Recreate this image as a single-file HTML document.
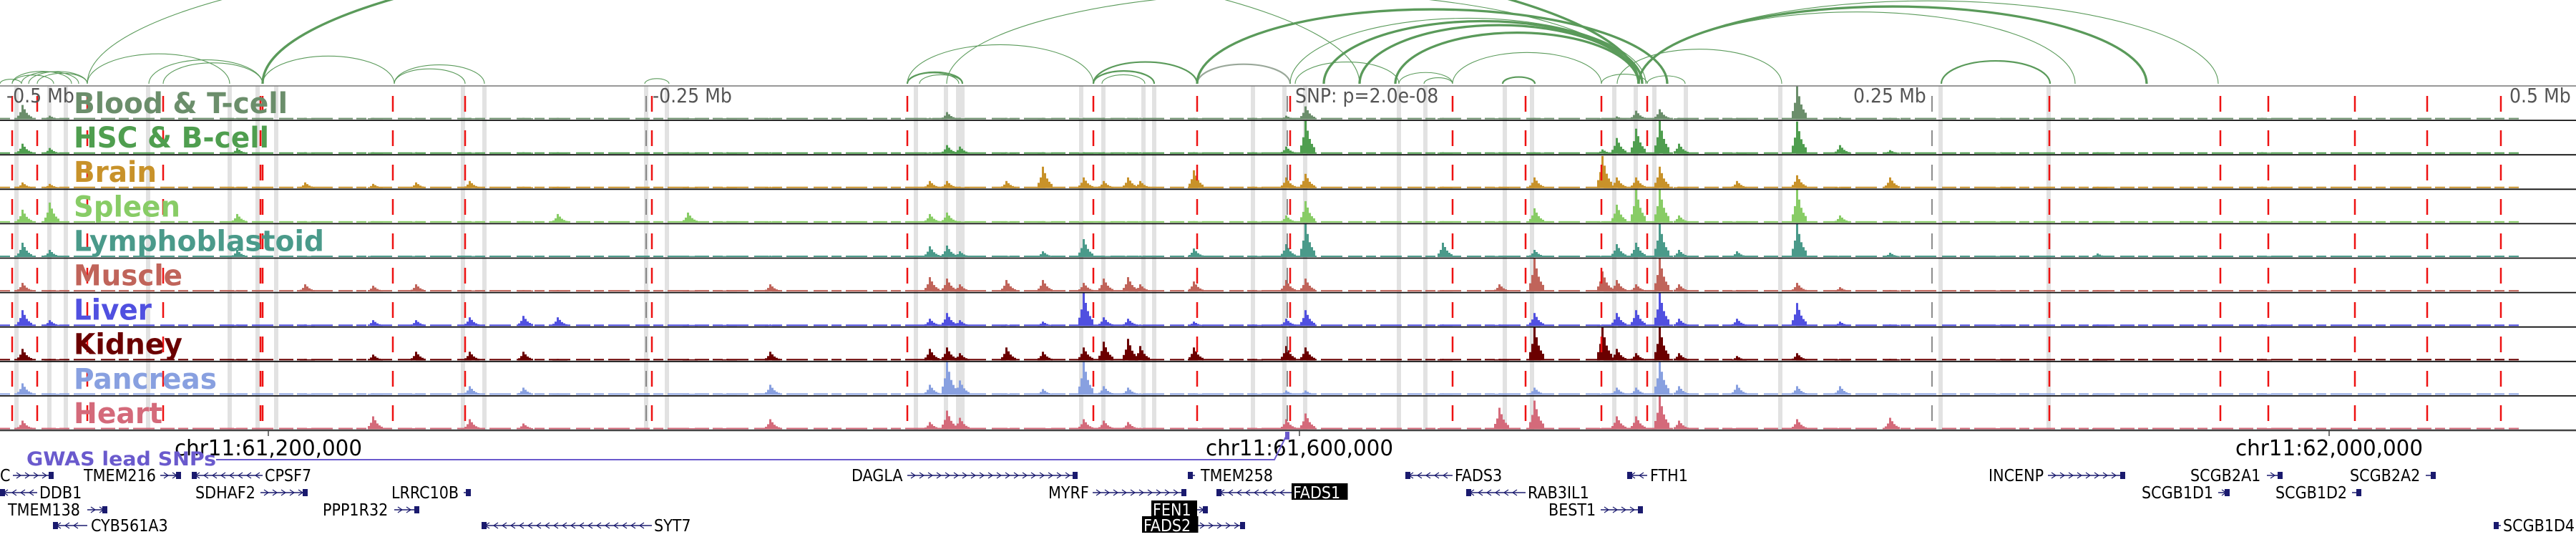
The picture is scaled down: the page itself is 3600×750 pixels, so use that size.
<!DOCTYPE html>
<html><head><meta charset="utf-8"><style>
html,body{margin:0;padding:0;background:#fff;}
svg{display:block;}
text{font-family:"DejaVu Sans Condensed","DejaVu Sans","Liberation Sans",sans-serif;}
</style></head><body>
<svg id="chart" xmlns="http://www.w3.org/2000/svg" width="3600" height="750" viewBox="0 0 3600 750">
<g id="bands"></g>
<g id="arcs"></g>
<g id="tracks"></g>
<g id="redlines"></g>
<g id="frames"></g>
<g id="labels"></g>
<g id="axis"></g>
<g id="genes"></g>
</svg>
<script>
const trackNames = ["Blood & T-cell","HSC & B-cell","Brain","Spleen","Lymphoblastoid","Muscle","Liver","Kidney","Pancreas","Heart"];
const trackColors = ["#6b8e6b","#4f9e4f","#c8922a","#88cc66","#4a9a8a","#c0645a","#5050e0","#6b0000","#88a0e0","#d46a7a"];
const labelWidths = [299,273,116,149,350,152,109,152,200,124];
const peakPx = [30,68,330,425,520,580,655,730,778,960,1015,1075,1298,1322,1340,1405,1456,1513,1541,1575,1592,1667,1750,1796,1823,2015,2094,2143,2238,2258,2285,2318,2345,2426,2510,2570,2640,2795,2930,3160];
const peakHeights = [
 {0:20,1:5,13:10,23:5,24:18,29:4,30:12,31:14,34:46,35:3},
 {0:14,1:8,2:8,13:12,14:10,23:10,24:46,28:6,29:22,30:35,31:46,32:14,34:45,35:12,36:5},
 {0:8,1:6,3:8,4:6,5:8,6:10,12:10,13:10,15:10,16:30,17:15,18:10,19:15,20:10,21:25,23:15,24:20,27:15,28:45,29:15,30:15,31:30,33:10,34:18,36:15},
 {0:18,1:28,2:12,8:12,9:14,12:12,13:14,23:10,24:30,27:20,29:25,30:46,31:46,32:10,34:46,35:10},
 {0:20,1:10,2:10,12:15,13:16,14:8,16:8,17:25,21:12,23:18,24:46,25:20,27:10,29:18,30:20,31:46,32:10,33:8,34:46,36:6,38:5},
 {0:12,3:10,4:8,5:10,11:10,12:20,13:18,14:10,15:16,16:16,17:12,18:18,19:20,20:10,21:14,23:16,24:18,26:10,27:46,28:28,29:16,30:10,31:46,32:10,34:12,35:6},
 {0:22,1:8,4:8,5:8,6:12,7:14,8:12,12:10,13:18,14:8,16:6,17:46,18:12,19:10,21:6,23:10,24:22,27:18,29:18,30:22,31:46,32:10,33:10,34:32,35:6},
 {0:16,4:8,5:12,6:12,7:12,11:12,12:16,13:18,14:10,15:18,16:12,17:18,18:26,19:30,20:20,21:18,23:20,24:18,27:46,28:46,29:16,30:10,31:46,32:10,33:6,34:10},
 {0:16,6:12,7:10,11:14,12:14,13:46,14:20,16:8,17:46,18:12,19:10,23:6,24:6,27:10,29:10,30:10,31:46,32:12,33:14,34:12,35:12},
 {0:12,4:18,6:14,7:8,11:14,12:10,13:26,14:16,17:14,18:12,19:10,23:14,24:22,26:30,27:40,29:18,30:18,31:46,32:12,34:14,36:16}
];
const bandPx = [23,69,92,207,321,360,386,647,677,903,932,1280,1322,1339,1345,1511,1542,1598,1613,1751,1795,1824,1955,1992,2103,2141,2256,2286,2312,2356,2488,2712,2863];
const redPx = [17,52,122,228,364,367,549,650,911,1268,1528,1673,1803,2030,2132,2238,2302,2864,3103,3170,3291,3392,3495];
const arcStarts = [0,17,30,40,17,52,122,208,228,367,551,551,901,1268,1268,1285,1268,1528,1528,1540,1673,1810,1955,1990,2030,2100,2238,2302,2713,122,367,1323,1673,1803,1850,1900,1950,2290,2290,2290,2260];
const arcEnds   = [30,100,110,122,75,122,321,367,367,551,677,650,935,1345,1340,1345,1528,1673,1613,1600,1803,1955,2030,2030,2238,2145,2302,2355,2865,1900,2290,2290,2330,2300,2295,2290,2290,2900,3000,3100,2490];
const arcThick  = [1,1,1,1,1,1,1,1,1,1,1,1,1,2,1,1,1,2,2,1,2,1,1,1,1,2,1,1,2,1,3,1,3,1,3,3,3,1,3,1,1];
const mbLabels = ["-0.5 Mb","-0.25 Mb","SNP: p=2.0e-08","0.25 Mb","0.5 Mb"];
const mbPx = [9,912,1810,2590,3507];
const chrLabels = ["chr11:61,200,000","chr11:61,600,000","chr11:62,000,000"];
const chrPx = [375,1816,3255];
const geneNames = ["C","TMEM216","CPSF7","DAGLA","TMEM258","FADS3","FTH1","INCENP","SCGB2A1","SCGB2A2","DDB1","SDHAF2","LRRC10B","MYRF","FADS1","RAB3IL1","SCGB1D1","SCGB1D2","TMEM138","PPP1R32","FEN1","BEST1","CYB561A3","SYT7","FADS2","SCGB1D4"];
const geneLabelX = [0,117,370,1190,1678,2033,2306,2779,3061,3284,55,273,547,1465,1807,2135,2993,3180,11,451,1611,2164,127,914,1598,3498];
const geneRow = [0,0,0,0,0,0,0,0,0,0,1,1,1,1,1,1,1,1,2,2,2,2,3,3,3,3];
const geneStart = [18,224,268,1268,1660,1964,2274,2862,3168,3390,0,364,648,1527,1700,2049,3100,3287,122,551,1671,2237,74,673,1672,3485];
const geneEnd = [75,253,367,1506,1670,2030,2302,2970,3190,3404,52,430,658,1658,1805,2132,3116,3300,150,586,1688,2296,122,911,1740,3495];
const geneDir = [1,1,-1,1,-1,-1,-1,1,1,1,-1,1,1,1,-1,-1,1,1,1,1,1,1,-1,-1,1,-1];
const geneHi = [0,0,0,0,0,0,0,0,0,0,0,0,0,0,1,0,0,0,0,0,1,0,0,0,1,0];

const NS="http://www.w3.org/2000/svg";
const TOP=120, TH=48.1, NT=10, BOT=TOP+TH*NT, BASE=117;
const xpx = v => v;
function mk(tag,attrs,parent){const e=document.createElementNS(NS,tag);for(const k in attrs)e.setAttribute(k,attrs[k]);parent.appendChild(e);return e;}
const G=id=>document.getElementById(id);

bandPx.forEach(b=>{
 const r=mk('rect',{x:xpx(b)-3,y:TOP,width:6,height:BOT-TOP,fill:'#e2e2e2'},G('bands'));
 
 
});
arcStarts.forEach((s,i)=>{
 const e=arcEnds[i], x1=xpx(s), x2=xpx(e), rx=(x2-x1)/2;
 const ry = rx<200 ? 0.42*rx : 84+0.155*(rx-200);
 const p=mk('path',{d:`M${x1},${BASE} A${rx},${ry} 0 0 1 ${x2},${BASE}`,fill:'none',stroke:i==20?'#9aa89a':'#5a9a5a','stroke-width':arcThick[i]*1.1},G('arcs'));
 
 
});
const profile=[0.25,0.5,1,0.7,0.45,0.3,0.2];
trackNames.forEach((n,t)=>{
 const bottom=TOP+TH*(t+1)-1.5, col=trackColors[t];
 const g=mk('g',{},G('tracks'));
 
 
 const bl=mk('line',{x1:0,x2:3520,y1:bottom-1,y2:bottom-1,stroke:col,'stroke-width':2,'stroke-dasharray':'14 6 30 8 20 5'},g);
 
 
 peakPx.forEach((p,i)=>{
  const h=peakHeights[t][i]||2;
  profile.forEach((f,k)=>{
   const hh=Math.max(1.5,h*f);
   const r=mk('rect',{x:xpx(p)+(k-2)*3,y:bottom-hh,width:3,height:hh,fill:col},g);
   
   
  });
 });
});
redPx.forEach(r=>{
 const l=mk('line',{x1:xpx(r),x2:xpx(r),y1:TOP,y2:BOT,stroke:'#ee1111','stroke-width':2.5,'stroke-dasharray':'0 14 22 12'},G('redlines'));
 
 
});
[903,2700,1799].forEach(x=>{
 const l=mk('line',{x1:x,x2:x,y1:TOP,y2:BOT,stroke:'#666','stroke-width':1.5,'stroke-dasharray':'0 14 22 12'},G('redlines'));
 
 
});
mk('line',{x1:0,x2:3600,y1:TOP,y2:TOP,stroke:'#777','stroke-width':1.5},G('frames'));
for(let i=1;i<=NT;i++){
 const l=mk('line',{x1:0,x2:3600,y1:TOP+TH*i,y2:TOP+TH*i,stroke:i==NT?'#444':'#111','stroke-width':i==NT?2.5:1.8},G('frames'));
 
 
}
trackNames.forEach((n,t)=>{
 const tx=mk('text',{x:103,y:TOP+TH*t+38,'font-size':40,'font-weight':'bold',fill:trackColors[t],textLength:labelWidths[t],lengthAdjust:'spacingAndGlyphs'},G('labels'));
 tx.textContent=n;
 
 
});
mbLabels.forEach((m,i)=>{
 const tx=mk('text',{x:mbPx[i],y:143,'font-size':28,fill:'#555'},G('axis'));
 tx.textContent=m;
 
 
});
chrLabels.forEach((c,i)=>{
 const x=xpx(chrPx[i]);
 mk('line',{x1:x,x2:x,y1:BOT,y2:BOT+8,stroke:'#444','stroke-width':1.5},G('axis'));
 const tx=mk('text',{x:x,y:636,'font-size':30,fill:'#000','text-anchor':'middle',textLength:262,lengthAdjust:'spacingAndGlyphs'},G('axis'));
 tx.textContent=c;
 
 
});
const gw=mk('text',{x:37,y:650,'font-size':27,'font-weight':'bold',fill:'#6a5acd',textLength:265,lengthAdjust:'spacingAndGlyphs'},G('axis'));
gw.textContent='GWAS lead SNPs';


const gl=mk('path',{d:'M302,642 L1781,642 L1799,606',fill:'none',stroke:'#6a5acd','stroke-width':2},G('axis'));


const gm=mk('rect',{x:1796,y:603,width:6,height:11,fill:'#6a5acd'},G('axis'));


const rowY=[664,688,712,734];
geneNames.forEach((n,i)=>{
 const y=rowY[geneRow[i]], g=mk('g',{},G('genes'));
 
 
 const s=xpx(geneStart[i]), e=xpx(geneEnd[i]);
 mk('line',{x1:s,x2:e,y1:y,y2:y,stroke:'#1a1a6e','stroke-width':1.5},g);
 for(let x=s+8;x<e-6;x+=12){
  const d=geneDir[i];
  mk('path',{d:`M${x-3*d},${y-4} L${x+3*d},${y} L${x-3*d},${y+4}`,fill:'none',stroke:'#1a1a6e','stroke-width':1.2},g);
 }
 const bx=geneDir[i]>0?e-7:s;
 mk('rect',{x:bx,y:y-5,width:7,height:10,fill:'#1a1a6e'},g);
 if(geneHi[i]){
  const w=n.length*14.5+6;
  mk('rect',{x:geneLabelX[i]-2,y:y-13,width:w,height:23,fill:'#000'},g);
 }
 const tx=mk('text',{x:geneLabelX[i],y:y+8,'font-size':23,fill:geneHi[i]?'#fff':'#000'},g);
 tx.textContent=n;
 
 
});
</script>
</body></html>
